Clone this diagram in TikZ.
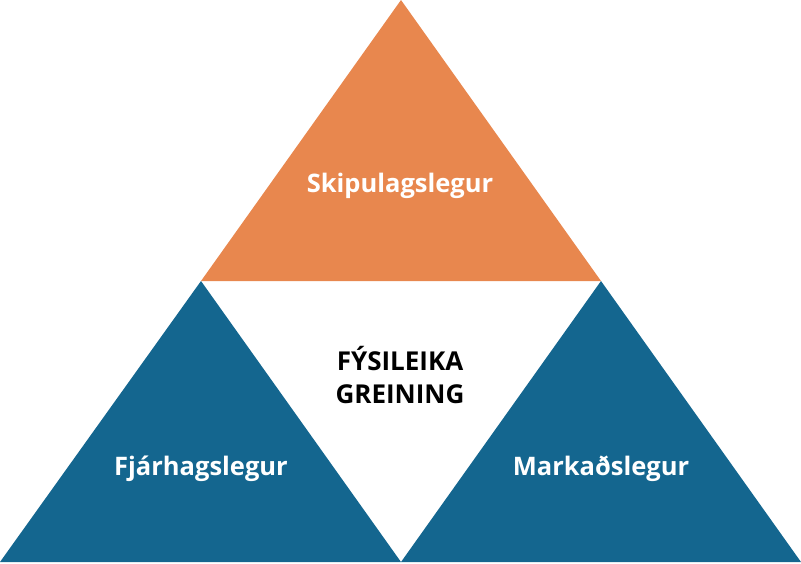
\documentclass[tikz,border=0pt]{standalone}
\usepackage{fontspec}
\setmainfont{Open Sans}
\definecolor{orng}{HTML}{E8874E}
\definecolor{blu}{HTML}{14668F}
\begin{document}
\begin{tikzpicture}[x=1pt,y=-1pt,
  lbl/.style={text=white,font=\bfseries\fontsize{25.5}{30}\selectfont,inner sep=0pt},
  ctr/.style={text=black,font=\bfseries\fontsize{26}{33}\selectfont,align=center,inner sep=0pt}]
\useasboundingbox (0,0) rectangle (801,563);
\fill[orng] (401,0) -- (601,281) -- (201,281) -- cycle;
\fill[blu] (201,281) -- (401,562) -- (0,562) -- cycle;
\fill[blu] (601,281) -- (801,562) -- (401,562) -- cycle;
\node[lbl] (top) at (400,186) {Skipulagslegur};
\node[lbl] (left) at (201,469) {Fjárhagslegur};
\node[lbl] (right) at (601,469) {Markaðslegur};
\node[ctr] (mid) at (400,375) {FÝSILEIKA\\GREINING};
\end{tikzpicture}
\end{document}
